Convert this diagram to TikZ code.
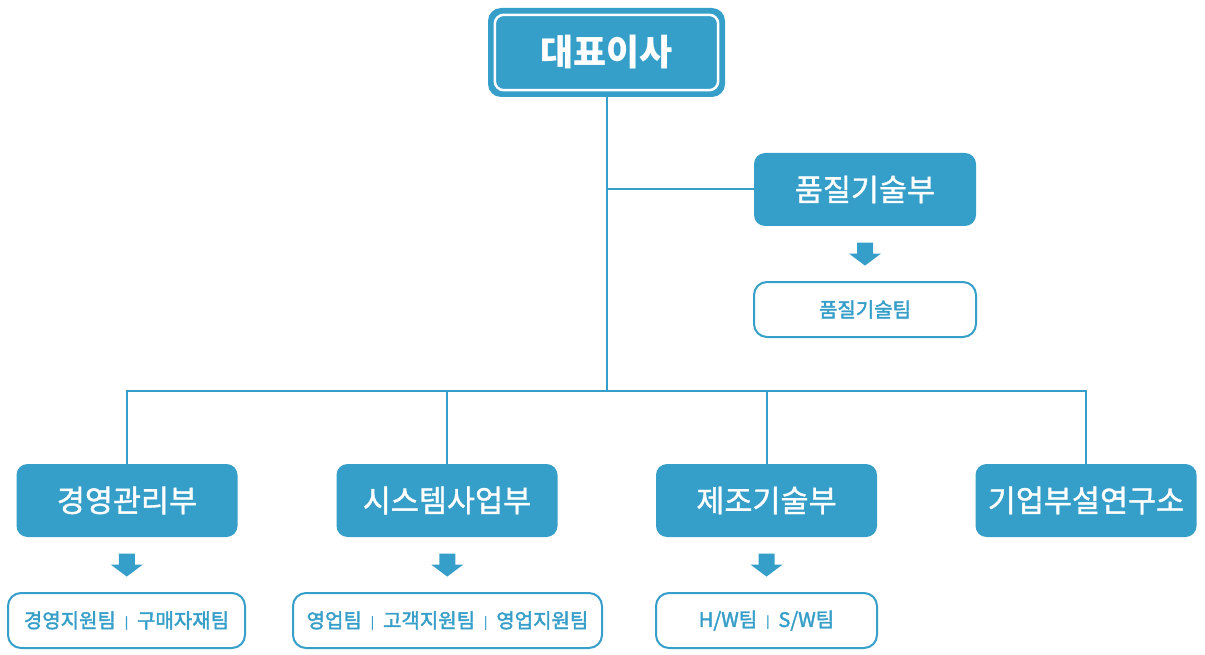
\documentclass[tikz,border=0pt]{standalone}
\usepackage{fontspec}
\setmainfont{Noto Sans CJK KR}
\newfontfamily\deptfont{Noto Sans CJK KR}[FakeBold=1.2]
\newfontfamily\teamfont{Noto Sans CJK KR}[FakeBold=2]
\usetikzlibrary{calc}
\definecolor{org}{RGB}{54,159,201}
\newcommand{\sepbar}{\hspace{9pt}{\fontsize{12}{12}\selectfont\raisebox{1.5pt}{|}}\hspace{9pt}}
\begin{document}
\begin{tikzpicture}[x=1pt,y=-1pt,
  conn/.style={draw=org,line width=2pt},
  deptbox/.style={fill=org,rounded corners=11pt,minimum width=221pt,minimum height=73pt,inner sep=0pt,
    text=white,font=\deptfont\fontsize{30.5}{32}\selectfont},
  teambox/.style={draw=org,line width=2pt,fill=white,rounded corners=13pt,minimum height=55pt,inner sep=0pt,
    text=org,font=\teamfont\fontsize{20}{22}\selectfont},
  downarrow/.style={fill=org}]
\useasboundingbox (0,0) rectangle (1205,655);

% nodes
\node[fill=org,rounded corners=13pt,minimum width=237pt,minimum height=89pt,inner sep=0pt,
  text=white,font=\bfseries\fontsize{36}{38}\selectfont] (ceo) at (606.5,52.5) {대표이사};
\draw[white,line width=2.5pt,rounded corners=9pt]
  ([shift={(7,7)}]ceo.north west) rectangle ([shift={(-7,-7)}]ceo.south east);

\node[deptbox,minimum width=222pt] (quality) at (865,189.5) {품질기술부};
\node[teambox,minimum width=222pt] (qteam) at (865,309.5) {품질기술팀};

\node[deptbox] (dept1) at (127,500.5) {경영관리부};
\node[deptbox] (dept2) at (447,500.5) {시스템사업부};
\node[deptbox] (dept3) at (766.5,500.5) {제조기술부};
\node[deptbox] (dept4) at (1086,500.5) {기업부설연구소};

\node[teambox,minimum width=237pt] (team1) at (126.5,620.5) {경영지원팀\sepbar 구매자재팀};
\node[teambox,minimum width=309pt] (team2) at (447.5,620.5) {영업팀\sepbar 고객지원팀\sepbar 영업지원팀};
\node[teambox,minimum width=221pt] (team3) at (766.5,620.5) {H/W팀\sepbar S/W팀};

% connectors
\coordinate (bus) at (606.5,391);
\draw[conn] (ceo.south) -- (bus);
\draw[conn] (ceo.south |- quality.west) -- (quality.west);
\draw[conn] (dept1.north) -- (dept1.north |- bus) -- (dept4.north |- bus) -- (dept4.north);
\draw[conn] (dept2.north) -- (dept2.north |- bus);
\draw[conn] (dept3.north) -- (dept3.north |- bus);

% block arrows
\foreach \a/\b in {quality/qteam,dept1/team1,dept2/team2,dept3/team3}{
  \coordinate (m) at ($(\a.south)!0.5!(\b.north)$);
  \fill[org] ([shift={(-8,-11)}]m) -- ([shift={(8,-11)}]m) -- ([shift={(8,0)}]m) -- ([shift={(16,0)}]m)
    -- ([shift={(0,12)}]m) -- ([shift={(-16,0)}]m) -- ([shift={(-8,0)}]m) -- cycle;
}
\end{tikzpicture}
\end{document}
